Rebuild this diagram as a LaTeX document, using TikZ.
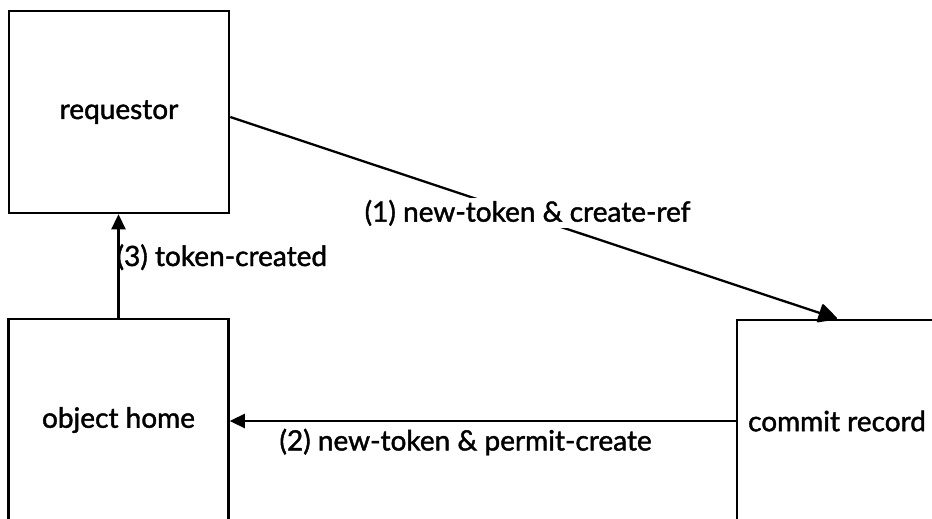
\documentclass[tikz,border=0pt]{standalone}
\usepackage{fontspec}
\setmainfont{Lato}[BoldFont=Lato, BoldFeatures={FakeBold=1.5}]
\usetikzlibrary{arrows.meta}
\tikzset{
  party/.style={draw, line width=2.5pt, minimum width=220pt, minimum height=202pt,
    inner sep=0pt, font=\fontsize{28}{32}\selectfont\bfseries},
  msg/.style={line width=2.3pt, -{Triangle[length=15pt,width=14pt]}},
  msglabel/.style={font=\fontsize{28}{32}\selectfont\bfseries, inner sep=2pt}
}
\begin{document}
\begin{tikzpicture}[x=1pt,y=-1pt]
  \clip (0,0) rectangle (932,519);
  \fill[white] (0,0) rectangle (932,519);

  % the three parties
  \node[party] (req) at (119,112) {requestor};
  \node[party] (home) at (118.5,420) {object home};
  \node[party, minimum width=200pt] (commit) at (837,421) {commit record};

  % (1) requestor -> commit record
  \draw[msg, -{Triangle[length=20pt,width=20pt,round]}] ([yshift=-5pt]req.east) -- (commit.north)
    node[msglabel, pos=0.49, fill=white, yshift=3pt] (l1) {(1) new-token \& create-ref};

  % (2) commit record -> object home
  \draw[msg] (commit.west) -- (commit.west -| home.east)
    node[msglabel, pos=0.534, yshift=-21pt] (l2) {(2) new-token \& permit-create};

  % (3) object home -> requestor
  \draw[msg] (home.north) -- (home.north |- req.south)
    node[msglabel, pos=0.585, anchor=west, inner sep=0pt, xshift=-3pt] (l3) {(3) token-created};
\end{tikzpicture}
\end{document}
